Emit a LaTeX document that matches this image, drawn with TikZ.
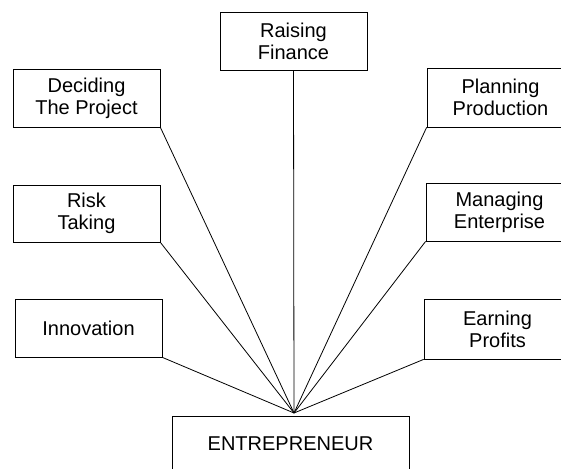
\documentclass[tikz,border=0pt]{standalone}
\usepackage{fontspec}
\setmainfont{Liberation Sans}
\begin{document}
\begin{tikzpicture}[x=1pt,y=1pt,
  box/.style={draw=black, line width=0.8pt, rectangle, inner sep=0pt, align=center,
    minimum width=147pt, minimum height=58pt, font=\fontsize{20}{22}\selectfont},
  link/.style={draw=black, line width=0.8pt}]
\useasboundingbox (0,0) rectangle (561,-468);
\fill[white] (0,0) rectangle (561,-468);
\node[box] (raise) at (293.5,-41) {Raising\\Finance};
\node[box] (decide) at (86.5,-98) {Deciding\\The Project};
\node[box, minimum height=57pt] (risk) at (86.5,-213.5) {Risk\\Taking};
\node[box] (innov) at (88.5,-328) {Innovation};
\node[box, minimum height=59pt] (plan) at (500.5,-97.5) {Planning\\Production};
\node[box] (manage) at (499.5,-212) {Managing\\Enterprise};
\node[box, minimum height=60pt] (earn) at (497.5,-329) {Earning\\Profits};
\node[box, minimum width=237pt, minimum height=56pt] (entre) at (290.5,-444) {ENTREPRENEUR};
\coordinate (hub) at (294,-413);
\draw[link] (raise.south) -- (hub);
\draw[link] (decide.south east) -- (hub);
\draw[link] (risk.south east) -- (hub);
\draw[link] (innov.south east) -- (hub);
\draw[link] (plan.south west) -- (hub);
\draw[link] (manage.south west) -- (hub);
\draw[link] (earn.south west) -- (hub);
\end{tikzpicture}
\end{document}
